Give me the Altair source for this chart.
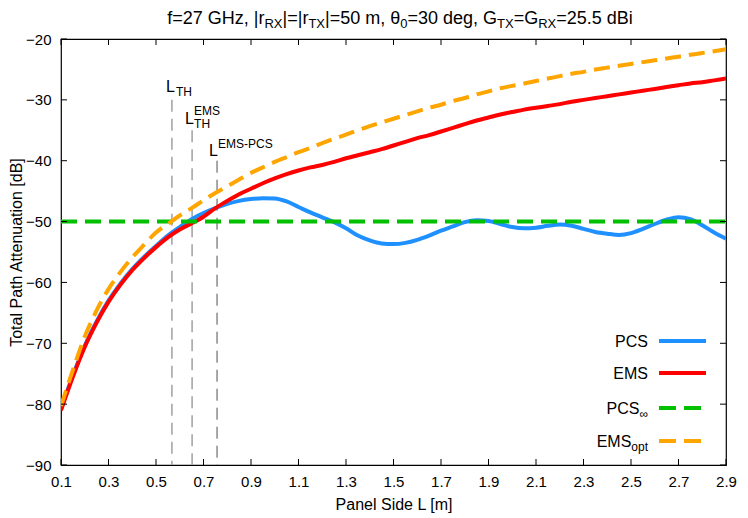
import altair as alt
import pandas as pd

FONT = "Liberation Sans"

# ---- data ----
L = [0.10, 0.15, 0.20, 0.25, 0.30, 0.35, 0.40, 0.45, 0.50, 0.55,
     0.60, 0.65, 0.70, 0.75, 0.80, 0.85, 0.90, 0.95, 1.00, 1.05,
     1.10, 1.15, 1.20, 1.25, 1.30, 1.35, 1.40, 1.45, 1.50, 1.55,
     1.60, 1.65, 1.70, 1.75, 1.80, 1.85, 1.90, 1.95, 2.00, 2.05,
     2.10, 2.15, 2.20, 2.25, 2.30, 2.35, 2.40, 2.45, 2.50, 2.55,
     2.60, 2.65, 2.70, 2.75, 2.80, 2.85, 2.90]

pcs = [-80.8, -75.3, -70.4, -66.4, -63.0, -60.2, -57.8, -55.8, -54.0, -52.3,
       -50.9, -49.6, -48.6, -47.8, -47.1, -46.6, -46.3, -46.15, -46.2, -46.7,
       -47.6, -48.5, -49.3, -50.1, -51.1, -52.3, -53.1, -53.6, -53.7, -53.5,
       -53.0, -52.3, -51.5, -50.8, -50.1, -49.8, -49.9, -50.4, -50.9, -51.1,
       -51.0, -50.7, -50.5, -50.7, -51.2, -51.7, -52.0, -52.2, -51.9, -51.2,
       -50.4, -49.7, -49.3, -49.6, -50.6, -51.8, -52.8]

ems = [-81.0, -75.5, -70.6, -66.6, -63.2, -60.4, -58.0, -56.0, -54.2, -52.6,
       -51.3, -50.3, -49.2, -47.8, -46.6, -45.5, -44.6, -43.7, -42.9, -42.2,
       -41.6, -41.1, -40.7, -40.2, -39.6, -39.1, -38.6, -38.1, -37.5, -36.9,
       -36.3, -35.8, -35.2, -34.6, -34.0, -33.4, -32.9, -32.4, -32.0, -31.6,
       -31.3, -31.0, -30.7, -30.3, -30.0, -29.7, -29.4, -29.1, -28.8, -28.5,
       -28.2, -27.9, -27.6, -27.3, -27.1, -26.8, -26.5]

ems_opt = [-80.3, -74.4, -68.9, -64.6, -61.1, -58.3, -55.9, -53.8, -51.8, -50.4,
           -49.0, -47.8, -46.5, -45.3, -44.2, -43.1, -42.0, -41.1, -40.2, -39.4,
           -38.6, -37.9, -37.1, -36.4, -35.7, -35.0, -34.3, -33.7, -33.1, -32.5,
           -31.9, -31.3, -30.8, -30.2, -29.7, -29.1, -28.6, -28.1, -27.7, -27.3,
           -26.9, -26.5, -26.1, -25.7, -25.4, -25.0, -24.7, -24.4, -24.1, -23.8,
           -23.5, -23.2, -22.9, -22.6, -22.3, -22.0, -21.7]

pcs_inf_L = [0.1, 2.9]
pcs_inf = [-50.0, -50.0]

vline_L = [0.567, 0.652, 0.757]
vline_top = [-30.0, -35.0, -40.0]

x_ticks = [0.1, 0.3, 0.5, 0.7, 0.9, 1.1, 1.3, 1.5, 1.7, 1.9, 2.1, 2.3, 2.5, 2.7, 2.9]
y_ticks = [-90, -80, -70, -60, -50, -40, -30, -20]

W, H = 665, 426

xs = alt.Scale(domain=[0.1, 2.9], nice=False, zero=False)
ys = alt.Scale(domain=[-90, -20], nice=False, zero=False)
x_axis = alt.Axis(values=x_ticks, format=".1f", title="Panel Side L [m]",
                  labelPadding=9, titlePadding=7, labelFlush=False)
y_axis = alt.Axis(values=y_ticks, format="d", title="Total Path Attenuation [dB]",
                  labelPadding=10, titlePadding=1, labelFlush=False)


def X(f):
    return alt.X(f"{f}:Q", scale=xs, axis=x_axis)


def Y(f):
    return alt.Y(f"{f}:Q", scale=ys, axis=y_axis)


DASH = [16, 8]


def curve(vals, xs_, color, dash=None):
    df = pd.DataFrame({"L": xs_, "v": vals})
    kw = dict(color=color, strokeWidth=4, interpolate="monotone", clip=True)
    if dash:
        kw["strokeDash"] = dash
    return alt.Chart(df).mark_line(**kw).encode(x=X("L"), y=Y("v"))


layers = []

# vertical marker lines
vcolors = ["#a0a0a0", "#a0a0a0", "#505050"]
vwidths = [1.5, 1.5, 1.0]
for i in range(3):
    d = pd.DataFrame({"L": [vline_L[i]], "top": [vline_top[i]], "bot": [-90.0]})
    layers.append(alt.Chart(d).mark_rule(color=vcolors[i], strokeWidth=vwidths[i],
                                         strokeDash=[12, 7]).encode(
        x=X("L"), y=Y("top"), y2="bot:Q"))

layers.append(curve(pcs, L, "#1e90ff"))
layers.append(curve(ems, L, "#ff0000"))
layers.append(curve(pcs_inf, pcs_inf_L, "#00c000", DASH))
layers.append(curve(ems_opt, L, "#ffa500", DASH))

# inward ticks, mirrored on all four sides
xt = pd.DataFrame({"t": x_ticks})
yt = pd.DataFrame({"t": y_ticks})
tk = dict(color="black", strokeWidth=1)
layers.append(alt.Chart(xt).mark_rule(**tk).encode(x=X("t"), y=alt.value(H), y2=alt.value(H - 6)))
layers.append(alt.Chart(xt).mark_rule(**tk).encode(x=X("t"), y=alt.value(0), y2=alt.value(6)))
layers.append(alt.Chart(yt).mark_rule(**tk).encode(y=Y("t"), x=alt.value(0), x2=alt.value(6)))
layers.append(alt.Chart(yt).mark_rule(**tk).encode(y=Y("t"), x=alt.value(W), x2=alt.value(W - 6)))

# labels of the vertical lines (L, sub/superscripts)
vlab = [
    (0, "L", 16, -6, -8), (0, "TH", 12, 4, -4),
    (1, "L", 16, -7, -6), (1, "EMS", 12, 2, -15), (1, "TH", 12, 2, -2),
    (2, "L", 16, -8, -5), (2, "EMS-PCS", 12, 1, -13),
]
for i, s, fs, dx, dy in vlab:
    d = pd.DataFrame({"L": [vline_L[i]], "top": [vline_top[i]]})
    layers.append(alt.Chart(d).mark_text(text=s, fontSize=fs, font=FONT, color="black",
                                         align="left", baseline="alphabetic",
                                         dx=dx, dy=dy).encode(x=X("L"), y=Y("top")))

one = pd.DataFrame({"a": [0]})


def txt(s, x, y, fs, align="left"):
    return alt.Chart(one).mark_text(text=s, fontSize=fs, font=FONT, color="black",
                                    align=align, baseline="alphabetic").encode(
        x=alt.value(x), y=alt.value(y))


CW = {'f': 278, '=': 584, '2': 556, '7': 556, ' ': 278, 'G': 778, 'H': 722, 'z': 500,
      ',': 278, '|': 260, 'r': 333, 'R': 722, 'X': 667, 'T': 611, '5': 556, '0': 556,
      'm': 833, 'θ': 556, '3': 556, 'd': 556, 'e': 556, 'g': 556, '.': 278, 'B': 667,
      'i': 222, 'o': 556, 'p': 556, 't': 278, '∞': 713}


def tw(s, fs):
    return sum(CW.get(c, 556) for c in s) * fs / 1000.0


# title with subscripts
title_parts = [("f=27 GHz, |r", 0), ("RX", 1), ("|=|r", 0), ("TX", 1),
               ("|=50 m, θ", 0), ("0", 1), ("=30 deg, G", 0), ("TX", 1),
               ("=G", 0), ("RX", 1), ("=25.5 dBi", 0)]
FM, FS = 18, 13
total = sum(tw(s, FS if sub else FM) for s, sub in title_parts)
cx = 339 - total / 2
for s, sub in title_parts:
    fs = FS if sub else FM
    layers.append(txt(s, cx, -11 if sub else -15, fs))
    cx += tw(s, fs)

# legend
legend_rows = [("PCS", "", "#1e90ff", None, 302),
               ("EMS", "", "#ff0000", None, 334),
               ("PCS", "∞", "#00c000", [17, 8], 369),
               ("EMS", "opt", "#ffa500", [17, 8], 402)]
RX_ = 587
for main, sub, col, dash, yy in legend_rows:
    subw = tw(sub, 12) if sub else 0
    layers.append(txt(main, RX_ - subw, yy + 6, 16, align="right"))
    if sub:
        layers.append(txt(sub, RX_, yy + 10, 12, align="right"))
    kw = dict(color=col, strokeWidth=4)
    if dash:
        kw["strokeDash"] = dash
    layers.append(alt.Chart(one).mark_rule(**kw).encode(
        x=alt.value(598), x2=alt.value(645), y=alt.value(yy)))

chart = alt.layer(*layers).properties(
    width=W, height=H,
    autosize="none",
    padding={"left": 53, "top": 31, "right": 14, "bottom": 52},
).configure_view(stroke="black", strokeWidth=1.2).configure_axis(
    grid=False, ticks=False, domain=False,
    labelFont=FONT, labelFontSize=15, labelColor="black",
    titleFont=FONT, titleFontSize=16, titleColor="black", titleFontWeight="normal",
)

chart.save("out.html", embed_options={"renderer": "svg", "actions": False})
